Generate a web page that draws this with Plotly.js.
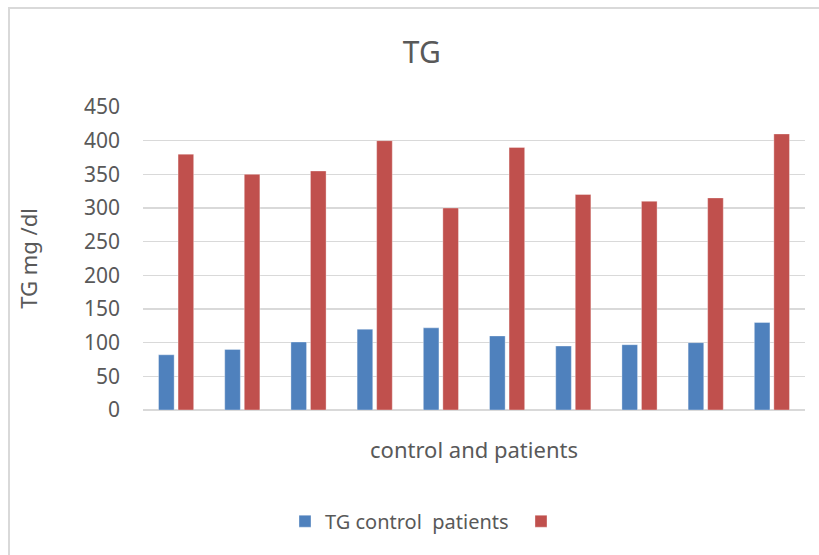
<!DOCTYPE html>
<html>
<head>
<meta charset="utf-8">
<script src="https://cdn.plot.ly/plotly-3.0.1.min.js"></script>
<style>
html,body{margin:0;padding:0;background:#fff;}
#frame{position:absolute;left:8px;top:7px;width:811px;height:548px;border-left:2px solid #d9d9d9;border-top:2px solid #d9d9d9;box-sizing:border-box;}
#chart{position:absolute;left:0;top:0;width:819px;height:555px;}
</style>
</head>
<body>
<div id="frame"></div>
<div id="chart"></div>
<script>
const categories = ['1','2','3','4','5','6','7','8','9','10'];
const controlValues = [82, 90, 101, 120, 122, 110, 95, 97, 100, 130];
const patientValues = [380, 350, 355, 400, 300, 390, 320, 310, 315, 410];
const seriesNames = ['TG control\u00a0\u00a0patients', ''];
const yTicks = [0, 50, 100, 150, 200, 250, 300, 350, 400, 450];

const font = 'Noto Sans, Open Sans, sans-serif';
const textColor = '#595959';

const traces = [
  {type:'bar', x:categories, y:controlValues, name:seriesNames[0],
   marker:{color:'#4f81bd', line:{color:'rgba(255,255,255,0.35)', width:1}}},
  {type:'bar', x:categories, y:patientValues, name:seriesNames[1],
   marker:{color:'#c0504d', line:{color:'rgba(255,255,255,0.35)', width:1}}}
];

const layout = {
  width:819, height:555,
  paper_bgcolor:'rgba(0,0,0,0)', plot_bgcolor:'rgba(0,0,0,0)',
  margin:{l:143, r:14, t:107, b:145},
  barmode:'group', bargap:0.41, bargroupgap:0.2,
  font:{family:font, color:textColor, size:20},
  title:{text:'TG', font:{family:font, size:30, color:textColor}, x:0.515, xref:'container', xanchor:'center', y:0.905, yref:'container', yanchor:'middle'},
  xaxis:{type:'category', showticklabels:false, ticks:'', showgrid:false, zeroline:false, showline:false,
         title:{text:'control and patients', font:{family:font, size:22, color:textColor}, standoff:32}},
  yaxis:{range:[0,450], tickvals:yTicks, ticktext:yTicks.map(String), showgrid:true, gridcolor:'#d9d9d9', gridwidth:1.5,
         zeroline:true, zerolinecolor:'#d9d9d9', zerolinewidth:1.5, showline:false, ticks:'',
         tickfont:{family:font, size:21, color:textColor}, ticklabelstandoff:22,
         title:{text:'TG mg /dl', font:{family:font, size:22, color:textColor}, standoff:40}},
  legend:{orientation:'h', x:0.2145, xanchor:'left', y:-0.367, yanchor:'middle', font:{family:font, size:20, color:textColor},
          entrywidth:191, entrywidthmode:'pixels', itemwidth:30, traceorder:'normal'},
  showlegend:true
};

Plotly.newPlot('chart', traces, layout, {displayModeBar:false, staticPlot:true});
</script>
</body>
</html>
